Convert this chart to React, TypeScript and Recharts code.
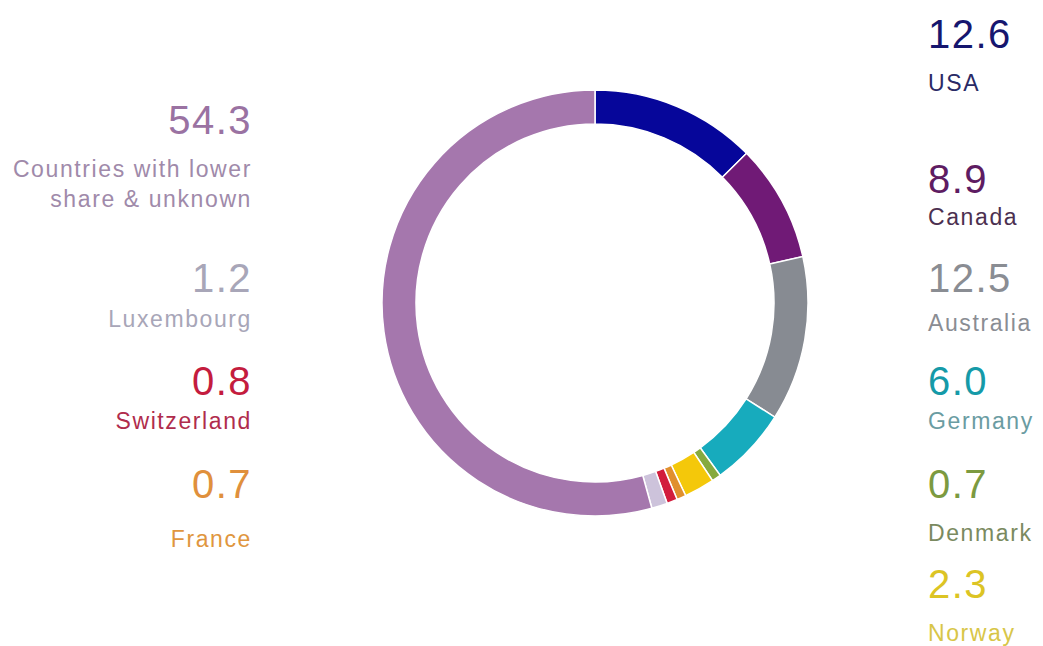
import React from 'react'
import { PieChart, Pie, Cell } from 'recharts'

const countries = [
  'USA',
  'Canada',
  'Australia',
  'Germany',
  'Denmark',
  'Norway',
  'France',
  'Switzerland',
  'Luxembourg',
  'Countries with lower share & unknown',
]
const shares = [12.6, 8.9, 12.5, 6.0, 0.7, 2.3, 0.7, 0.8, 1.2, 54.3]
const labelLines = [
  ['USA'],
  ['Canada'],
  ['Australia'],
  ['Germany'],
  ['Denmark'],
  ['Norway'],
  ['France'],
  ['Switzerland'],
  ['Luxembourg'],
  ['Countries with lower', 'share & unknown'],
]

const sliceColors = ['#06069a', '#701a76', '#878b92', '#17abbd', '#86aa3e', '#f4c80a', '#e0902e', '#d21c3c', '#cdc3db', '#a577ad']
const numberColors = ['#16166e', '#5e1c62', '#8a8d93', '#159aa8', '#7c9a40', '#dcc424', '#e0903c', '#c41c3e', '#a8a6b8', '#9a72a2']
const nameColors = ['#2a2a66', '#4c3050', '#8a8d93', '#6a9ca2', '#7a8a60', '#d8c648', '#e0963e', '#b02c4c', '#a8a6b8', '#a08aaa']

// where each label block sits: side, baseline of number, baselines of name lines
const layout: { side: 'left' | 'right'; num: number; names: number[] }[] = [
  { side: 'right', num: 48, names: [91] },
  { side: 'right', num: 193, names: [225] },
  { side: 'right', num: 292, names: [331] },
  { side: 'right', num: 395, names: [429] },
  { side: 'right', num: 498, names: [541] },
  { side: 'right', num: 598, names: [641] },
  { side: 'left', num: 498, names: [547] },
  { side: 'left', num: 395, names: [429] },
  { side: 'left', num: 292, names: [327] },
  { side: 'left', num: 134, names: [177, 207] },
]

const data = countries.map((name, i) => ({ name, value: shares[i] }))

const W = 1043
const H = 646
const font = '"Liberation Sans", Arial, sans-serif'

export default function App() {
  return (
    <div style={{ position: 'absolute', left: 0, top: 0, width: W, height: H, background: '#fff' }}>
      <PieChart width={W} height={H} margin={{ top: 0, right: 0, bottom: 0, left: 0 }}>
        <Pie
          data={data}
          dataKey="value"
          nameKey="name"
          cx={595}
          cy={303}
          innerRadius={179}
          outerRadius={213}
          startAngle={90}
          endAngle={-270}
          stroke="#ffffff"
          strokeWidth={1.5}
          isAnimationActive={false}
        >
          {data.map((d, i) => (
            <Cell key={d.name} fill={sliceColors[i]} />
          ))}
        </Pie>
      </PieChart>
      <svg width={W} height={H} style={{ position: 'absolute', left: 0, top: 0, pointerEvents: 'none' }}>
        {layout.map((l, i) => {
          const x = l.side === 'right' ? 928 : 252
          const anchor = l.side === 'right' ? 'start' : 'end'
          return (
            <g key={countries[i]} fontFamily={font} textAnchor={anchor}>
              <text x={x} y={l.num} fontSize={40} fill={numberColors[i]} letterSpacing={1.5}>
                {shares[i].toFixed(1)}
              </text>
              {labelLines[i].map((line, j) => (
                <text key={line} x={x} y={l.names[j]} fontSize={23} fill={nameColors[i]} letterSpacing={1.6}>
                  {line}
                </text>
              ))}
            </g>
          )
        })}
      </svg>
    </div>
  )
}
